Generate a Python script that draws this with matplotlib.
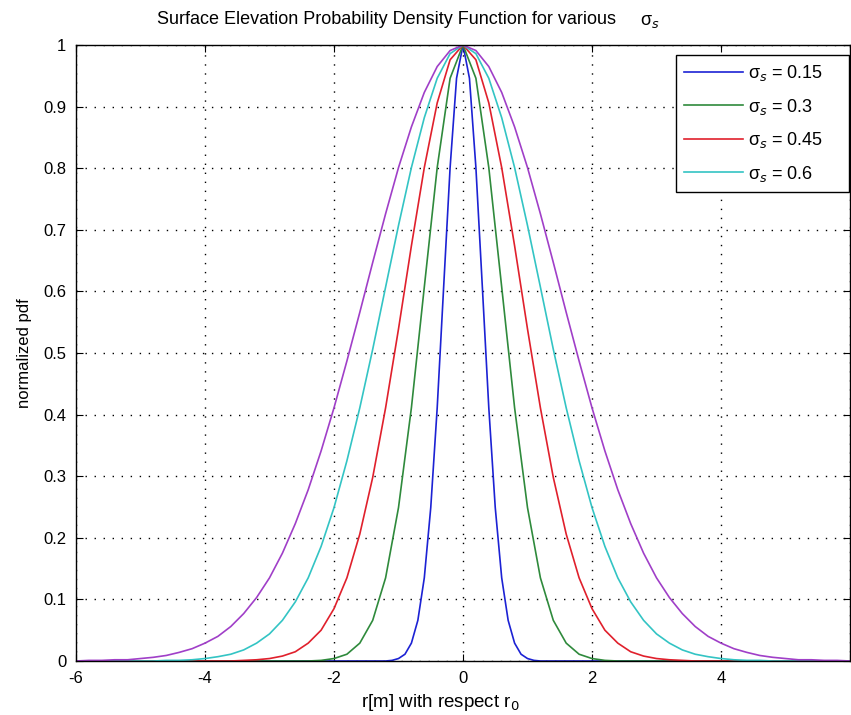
import numpy as np
import matplotlib.pyplot as plt

plt.rcParams['font.family'] = ['Liberation Sans', 'DejaVu Sans']
plt.rcParams['axes.unicode_minus'] = False

# sample positions along r (m)
r = [-6.0, -5.8, -5.6, -5.4, -5.2, -5.0, -4.8, -4.6, -4.4, -4.2,
     -4.0, -3.8, -3.6, -3.4, -3.2, -3.0, -2.8, -2.6, -2.4, -2.2,
     -2.0, -1.8, -1.6, -1.4, -1.2, -1.0, -0.8, -0.6, -0.4, -0.2,
     0.0, 0.2, 0.4, 0.6, 0.8, 1.0, 1.2, 1.4, 1.6, 1.8,
     2.0, 2.2, 2.4, 2.6, 2.8, 3.0, 3.2, 3.4, 3.6, 3.8,
     4.0, 4.2, 4.4, 4.6, 4.8, 5.0, 5.2, 5.4, 5.6, 5.8, 6.0]

# narrowest curve read at finer spacing
r_fine = [-6.0, -1.2, -1.1, -1.0, -0.9, -0.8, -0.7, -0.6, -0.5, -0.4, -0.3, -0.2, -0.1,
          0.0, 0.1, 0.2, 0.3, 0.4, 0.5, 0.6, 0.7, 0.8, 0.9, 1.0, 1.1, 1.2, 6.0]

# normalized pdf
pdf_015 = [0.0, 0.0, 0.001, 0.004, 0.011, 0.029, 0.066, 0.135, 0.249, 0.411, 0.607, 0.801, 0.946,
           1.0, 0.946, 0.801, 0.607, 0.411, 0.249, 0.135, 0.066, 0.029, 0.011, 0.004, 0.001, 0.0, 0.0]
pdf_030 = [0.0] * 19 + [0.001, 0.004, 0.011, 0.029, 0.066, 0.135, 0.249, 0.411, 0.607, 0.801, 0.946, 1.0,
                        0.946, 0.801, 0.607, 0.411, 0.249, 0.135, 0.066, 0.029, 0.011, 0.004, 0.001] + [0.0] * 19
pdf_045 = [0.0] * 13 + [0.001, 0.002, 0.004, 0.008, 0.015, 0.029, 0.050, 0.085, 0.135, 0.206, 0.298,
                        0.411, 0.539, 0.674, 0.801, 0.906, 0.976, 1.0,
                        0.976, 0.906, 0.801, 0.674, 0.539, 0.411, 0.298, 0.206, 0.135, 0.085,
                        0.050, 0.029, 0.015, 0.008, 0.004, 0.002, 0.001] + [0.0] * 13
pdf_060 = [0.0] * 7 + [0.001, 0.001, 0.002, 0.004, 0.007, 0.011, 0.018, 0.029, 0.044, 0.066, 0.096,
                       0.135, 0.186, 0.249, 0.325, 0.411, 0.506, 0.607, 0.707, 0.801, 0.882, 0.946, 0.986, 1.0,
                       0.986, 0.946, 0.882, 0.801, 0.707, 0.607, 0.506, 0.411, 0.325, 0.249, 0.186, 0.135,
                       0.096, 0.066, 0.044, 0.029, 0.018, 0.011, 0.007, 0.004, 0.002, 0.001, 0.001] + [0.0] * 7
pdf_075 = [0.000, 0.001, 0.001, 0.002, 0.002, 0.004, 0.006, 0.009, 0.014, 0.020,
           0.029, 0.040, 0.056, 0.077, 0.103, 0.135, 0.175, 0.223, 0.278, 0.341,
           0.411, 0.487, 0.566, 0.647, 0.726, 0.801, 0.867, 0.923, 0.965, 0.991,
           1.0, 0.991, 0.965, 0.923, 0.867, 0.801, 0.726, 0.647, 0.566, 0.487,
           0.411, 0.341, 0.278, 0.223, 0.175, 0.135, 0.103, 0.077, 0.056, 0.040,
           0.029, 0.020, 0.014, 0.009, 0.006, 0.004, 0.002, 0.002, 0.001, 0.001, 0.000]

sigmas = ['0.15', '0.3', '0.45', '0.6']
colors = ['#1c22d4', '#2f8a3c', '#e0202c', '#33c4c4', '#a03fc8']
xticks = [-6, -4, -2, 0, 2, 4, 6]
xtick_labels = ['-6', '-4', '-2', '0', '2', '4', '']
yticks = [0, 0.1, 0.2, 0.3, 0.4, 0.5, 0.6, 0.7, 0.8, 0.9, 1]
ytick_labels = ['0', '0.1', '0.2', '0.3', '0.4', '0.5', '0.6', '0.7', '0.8', '0.9', '1']

fig = plt.figure(figsize=(8.51, 7.15), dpi=100)
ax = fig.add_axes([76 / 851, 54 / 715, 774 / 851, 616 / 715])

xs = [r_fine, r, r, r, r]
curves = [pdf_015, pdf_030, pdf_045, pdf_060, pdf_075]
for i, y in enumerate(curves):
    label = 'σ$_s$ = ' + sigmas[i] if i < len(sigmas) else '_nolegend_'
    ax.plot(xs[i], y, color=colors[i], lw=1.2, label=label)

ax.set_xlim(-6, 6)
ax.set_ylim(0, 1)
ax.set_xticks(xticks)
ax.set_xticklabels(xtick_labels)
ax.set_yticks(yticks)
ax.set_yticklabels(ytick_labels)
ax.tick_params(direction='in', top=True, right=True, length=5, labelsize=12, pad=7)
ax.grid(True, color='black', linestyle=(0, (1, 5.5)), linewidth=1.0)
for s in ax.spines.values():
    s.set_linewidth(1.0)

# title sits left of centre in the original
fig.text(157 / 851, 1 - 20 / 715, 'Surface Elevation Probability Density Function for various',
         fontsize=13, ha='left', va='center')
fig.text(640 / 851, 1 - 22 / 715, 'σ$_s$', fontsize=13, ha='left', va='center')

ax.set_xlabel('r[m] with respect r$_0$', fontsize=13.5)
ax.xaxis.set_label_coords((440 - 76) / 774, -0.050)
ax.set_ylabel('normalized pdf', fontsize=12, labelpad=8)

# fixed-width legend box, text left-aligned inside
leg = ax.legend(loc='upper left', bbox_to_anchor=((676 - 76) / 774, 0.3, 173 / 774, (661 - 55) / 616 - 0.3),
                mode='expand', fontsize=13, handlelength=3.25, handletextpad=0.3, labelspacing=0.75,
                fancybox=False, framealpha=1, edgecolor='black', borderpad=0.45, borderaxespad=0.0)
leg.get_frame().set_linewidth(1.0)

fig.savefig('out.png', dpi=100)
